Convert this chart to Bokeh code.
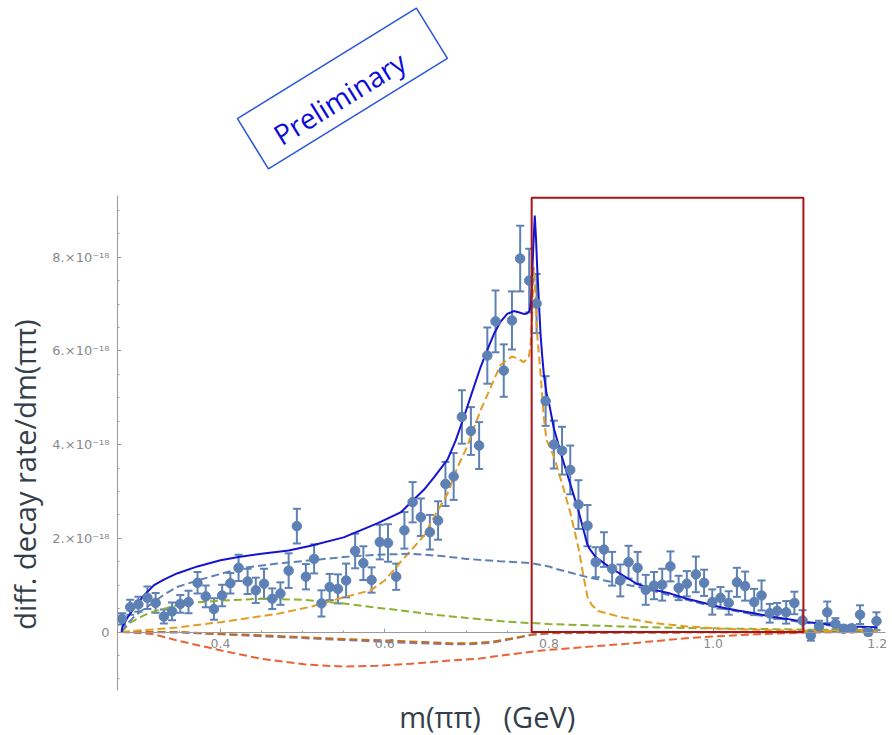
from bokeh.plotting import figure
from bokeh.models import Range1d, FixedTicker, Whisker, TeeHead, ColumnDataSource, Label
from bokeh.embed import file_html
from bokeh.resources import INLINE

# ---------------- data points (rate in units of 1e-18) ----------------
mass = [0.280, 0.290, 0.300, 0.311, 0.321, 0.331, 0.341, 0.351, 0.361, 0.372,
        0.382, 0.392, 0.402, 0.412, 0.422, 0.433, 0.443, 0.453, 0.463, 0.473,
        0.483, 0.493, 0.504, 0.514, 0.523, 0.533, 0.543, 0.553, 0.564, 0.574,
        0.584, 0.594, 0.604, 0.614, 0.624, 0.634, 0.644, 0.655, 0.665, 0.674,
        0.684, 0.694, 0.705, 0.715, 0.725, 0.735, 0.745, 0.755, 0.765, 0.776,
        0.785, 0.796, 0.806, 0.816, 0.826, 0.836, 0.847, 0.857, 0.867, 0.877,
        0.887, 0.897, 0.908, 0.918, 0.928, 0.938, 0.948, 0.958, 0.968, 0.979,
        0.989, 0.999, 1.009, 1.019, 1.029, 1.039, 1.050, 1.059, 1.069, 1.078,
        1.089, 1.099, 1.109, 1.119, 1.129, 1.139, 1.149, 1.159, 1.169, 1.179,
        1.189, 1.199]
rate = [0.28, 0.53, 0.59, 0.73, 0.62, 0.33, 0.44, 0.60, 0.64, 1.05,
        0.76, 0.49, 0.78, 1.04, 1.37, 1.08, 0.89, 1.03, 0.71, 0.82,
        1.31, 2.26, 1.18, 1.56, 0.61, 0.96, 0.92, 1.10, 1.73, 1.47,
        1.11, 1.92, 1.90, 1.18, 2.17, 2.77, 2.45, 2.13, 2.38, 3.16,
        3.32, 4.59, 4.29, 3.98, 5.90, 6.63, 5.58, 6.65, 7.97, 7.50,
        7.01, 4.93, 4.00, 3.87, 3.46, 2.72, 2.27, 1.49, 1.76, 1.35,
        1.10, 1.49, 1.37, 0.90, 0.99, 1.01, 1.40, 0.94, 1.03, 1.23,
        1.05, 0.64, 0.73, 0.62, 1.06, 0.98, 0.64, 0.78, 0.40, 0.45,
        0.42, 0.62, 0.245, -0.075, 0.12, 0.42, 0.175, 0.07, 0.08, 0.37,
        0.0, 0.23]
err = [0.12, 0.16, 0.16, 0.24, 0.21, 0.15, 0.19, 0.19, 0.24, 0.23,
       0.23, 0.23, 0.23, 0.22, 0.28, 0.27, 0.27, 0.32, 0.22, 0.24,
       0.37, 0.37, 0.27, 0.31, 0.28, 0.28, 0.31, 0.36, 0.37, 0.36,
       0.27, 0.37, 0.40, 0.28, 0.39, 0.43, 0.40, 0.37, 0.41, 0.47,
       0.50, 0.57, 0.51, 0.50, 0.60, 0.66, 0.56, 0.62, 0.70, 0.68,
       0.63, 0.53, 0.51, 0.51, 0.52, 0.52, 0.44, 0.32, 0.37, 0.36,
       0.34, 0.35, 0.34, 0.32, 0.29, 0.34, 0.32, 0.26, 0.27, 0.38,
       0.28, 0.27, 0.23, 0.25, 0.31, 0.31, 0.28, 0.32, 0.20, 0.17,
       0.24, 0.24, 0.22, 0.11, 0.12, 0.23, 0.12, 0.07, 0.07, 0.20,
       0.07, 0.19]

# ---------------- model curves ----------------
total_m = [0.2795, 0.2803, 0.2864, 0.2965, 0.3067, 0.319, 0.331, 0.347, 0.372, 0.40,
           0.422, 0.45, 0.483, 0.51, 0.55, 0.591, 0.62, 0.634, 0.648, 0.66,
           0.6765, 0.6865, 0.6965, 0.7065, 0.7167, 0.725, 0.733, 0.741, 0.7492, 0.7573,
           0.764, 0.7694, 0.7735, 0.7767, 0.7782, 0.7796, 0.7812, 0.7828, 0.7843, 0.7857,
           0.7878, 0.7898, 0.7918, 0.7938, 0.797, 0.80, 0.806, 0.816, 0.826, 0.836,
           0.8467, 0.849, 0.857, 0.867, 0.877, 0.887, 0.907, 0.928, 0.948, 0.968,
           0.989, 1.009, 1.03, 1.05, 1.07, 1.09, 1.11, 1.13, 1.15, 1.17, 1.20]
total_r = [0.0, 0.10, 0.30, 0.55, 0.78, 1.00, 1.12, 1.25, 1.40, 1.53,
           1.60, 1.67, 1.74, 1.84, 2.02, 2.32, 2.56, 2.80, 3.04, 3.30,
           3.68, 4.09, 4.59, 5.12, 5.65, 6.02, 6.36, 6.62, 6.79, 6.85,
           6.82, 6.79, 6.80, 6.86, 7.05, 7.60, 8.30, 8.89, 8.40, 7.79,
           7.05, 6.36, 5.90, 5.51, 5.10, 4.90, 4.35, 3.73, 3.16, 2.59,
           1.88, 1.79, 1.60, 1.47, 1.35, 1.24, 1.03, 0.90, 0.82, 0.71,
           0.62, 0.53, 0.46, 0.40, 0.33, 0.28, 0.22, 0.18, 0.14, 0.12, 0.10]

broad_m = [0.2795, 0.285, 0.295, 0.305, 0.319, 0.333, 0.347, 0.372, 0.40, 0.428,
           0.469, 0.51, 0.55, 0.59, 0.632, 0.67, 0.70, 0.74, 0.779, 0.80,
           0.806, 0.847, 0.887, 0.907, 0.95, 1.0, 1.05, 1.10, 1.15, 1.20]
broad_r = [0.0, 0.15, 0.33, 0.47, 0.64, 0.82, 0.96, 1.10, 1.24, 1.37,
           1.46, 1.53, 1.60, 1.65, 1.67, 1.62, 1.56, 1.51, 1.47, 1.40,
           1.36, 1.17, 1.03, 0.97, 0.77, 0.54, 0.37, 0.23, 0.12, 0.07]

rho_m = [0.2795, 0.30, 0.35, 0.40, 0.47, 0.51, 0.55, 0.583, 0.60, 0.614,
         0.619, 0.632, 0.648, 0.66, 0.6765, 0.6887, 0.70, 0.7167, 0.729, 0.741,
         0.755, 0.762, 0.769, 0.7755, 0.778, 0.7796, 0.7816, 0.7836, 0.7857, 0.7898,
         0.7938, 0.797, 0.806, 0.818, 0.826, 0.836, 0.842, 0.847, 0.852, 0.86,
         0.887, 0.928, 0.968, 1.009, 1.09, 1.20]
rho_r = [0.0, 0.03, 0.10, 0.21, 0.39, 0.54, 0.74, 0.89, 1.10, 1.38,
         1.49, 1.74, 2.06, 2.45, 2.95, 3.52, 3.94, 4.73, 5.22, 5.70,
         5.88, 5.84, 5.76, 5.85, 6.20, 6.72, 7.79, 7.20, 6.36, 5.52,
         4.59, 4.10, 3.75, 3.05, 2.55, 1.80, 1.20, 0.75, 0.58, 0.45,
         0.32, 0.19, 0.12, 0.07, 0.03, 0.01]

sigma_m = [0.2795, 0.29, 0.306, 0.319, 0.347, 0.37, 0.40, 0.45, 0.50, 0.55,
           0.59, 0.62, 0.66, 0.70, 0.75, 0.80, 0.887, 0.95, 1.03, 1.12, 1.20]
sigma_r = [0.0, 0.20, 0.35, 0.44, 0.57, 0.63, 0.67, 0.71, 0.69, 0.61,
           0.52, 0.46, 0.37, 0.30, 0.22, 0.17, 0.12, 0.09, 0.07, 0.05, 0.04]

interf_m = [0.2795, 0.30, 0.319, 0.347, 0.40, 0.449, 0.502, 0.55, 0.59, 0.632,
            0.672, 0.713, 0.753, 0.794, 0.895, 0.976, 1.05, 1.12, 1.20]
interf_r = [0.0, -0.02, -0.05, -0.18, -0.39, -0.57, -0.69, -0.74, -0.72, -0.68,
            -0.62, -0.57, -0.48, -0.39, -0.25, -0.12, -0.05, -0.01, 0.0]

small1_m = [0.2795, 0.35, 0.40, 0.45, 0.50, 0.55, 0.60, 0.64, 0.68, 0.705,
            0.73, 0.76, 0.78, 0.80, 0.90, 1.20]
small1_r = [0.0, -0.01, -0.05, -0.09, -0.13, -0.17, -0.21, -0.24, -0.26, -0.26,
            -0.23, -0.13, -0.06, -0.03, -0.01, 0.0]
small2_m = [0.2795, 0.35, 0.40, 0.45, 0.50, 0.55, 0.60, 0.64, 0.68, 0.705,
            0.73, 0.76, 0.78, 0.80, 0.90, 1.20]
small2_r = [0.0, 0.0, -0.04, -0.07, -0.11, -0.15, -0.18, -0.21, -0.24, -0.24,
            -0.21, -0.12, -0.05, -0.02, -0.01, 0.0]

# highlighted region
box_left = [0.779]
box_right = [1.110]
box_bottom = [0.0]
box_top = [9.27]

# ticks
x_ticks = [0.4, 0.6, 0.8, 1.0, 1.2]
x_tick_labels = ["0.4", "0.6", "0.8", "1.0", "1.2"]
x_minor = [0.30, 0.35, 0.45, 0.50, 0.55, 0.65, 0.70, 0.75, 0.85, 0.90, 0.95,
           1.05, 1.10, 1.15]
y_ticks = [0, 2, 4, 6, 8]
y_tick_labels = ["0", "2.×10⁻¹⁸", "4.×10⁻¹⁸", "6.×10⁻¹⁸", "8.×10⁻¹⁸"]
y_minor = [-1.0, -0.5, 0.5, 1.0, 1.5, 2.5, 3.0, 3.5, 4.5, 5.0, 5.5, 6.5, 7.0,
           7.5, 8.5, 9.0]

X0 = 0.2745   # where the vertical axis crosses

# ---------------- figure (frame covers the whole page) ----------------
p = figure(width=892, height=735, output_backend="svg", toolbar_location=None,
           x_range=Range1d(0.13203, 1.21851), y_range=Range1d(-2.209, 13.479),
           min_border_left=0, min_border_right=0, min_border_top=0,
           min_border_bottom=0)
p.outline_line_color = None
p.grid.visible = False
p.background_fill_color = "white"
p.border_fill_color = "white"

AXC = "#9a9a9a"
LBC = "#8a8a8a"

xa = p.xaxis[0]
xa.fixed_location = 0
xa.bounds = (X0, 1.21)
xa.ticker = FixedTicker(ticks=x_ticks, minor_ticks=x_minor)
xa.major_label_overrides = {t: s for t, s in zip(x_ticks, x_tick_labels)}
ya = p.yaxis[0]
ya.fixed_location = X0
ya.bounds = (-1.249, 9.32)
ya.ticker = FixedTicker(ticks=y_ticks, minor_ticks=y_minor)
ya.major_label_overrides = {t: s for t, s in zip(y_ticks, y_tick_labels)}
for ax in (xa, ya):
    ax.axis_line_color = AXC
    ax.major_tick_line_color = AXC
    ax.minor_tick_line_color = AXC
    ax.major_tick_in = 4
    ax.major_tick_out = 0
    ax.minor_tick_in = 2
    ax.minor_tick_out = 0
    ax.major_label_text_color = LBC
    ax.major_label_text_font = "DejaVu Sans"
xa.major_label_text_font_size = "12.5px"
ya.major_label_text_font_size = "13px"
xa.major_label_standoff = 7
ya.major_label_standoff = 8

DASH = "8 4"
p.line(interf_m, interf_r, line_color="#eb6235", line_width=2, line_dash=DASH)
p.line(small1_m, small1_r, line_color="#8778b3", line_width=2, line_dash=DASH)
p.line(small2_m, small2_r, line_color="#c56e1a", line_width=2, line_dash=DASH)
p.line(sigma_m, sigma_r, line_color="#8fb032", line_width=2, line_dash=DASH)
p.line(rho_m, rho_r, line_color="#e19c24", line_width=2, line_dash=DASH)
p.line(broad_m, broad_r, line_color="#5e81b5", line_width=2, line_dash=DASH)
p.line(total_m, total_r, line_color="#1414d2", line_width=2)

PT = "#5e81b5"
src = ColumnDataSource(dict(
    m=mass, r=rate,
    lo=[r - e for r, e in zip(rate, err)],
    hi=[r + e for r, e in zip(rate, err)]))
p.add_layout(Whisker(source=src, base="m", lower="lo", upper="hi",
                     line_color=PT, line_width=2,
                     upper_head=TeeHead(size=8, line_color=PT, line_width=2),
                     lower_head=TeeHead(size=8, line_color=PT, line_width=2)))
p.scatter("m", "r", source=src, size=9.5, fill_color=PT, line_color=PT)

bx = p.quad(left=box_left, right=box_right, bottom=box_bottom, top=box_top,
            fill_color=None, line_color="#a8141a", line_width=2)
bx.level = "overlay"

# annotations
p.add_layout(Label(x=0.5485, y=11.6, text="Preliminary", angle=31.7,
                   angle_units="deg", anchor="center",
                   text_font="Open Sans", text_font_size="28px",
                   text_color="#0b0bdc",
                   border_line_color="#2a56d8", border_line_width=1.5,
                   padding=dict(left=23, right=38, top=17, bottom=4)))
p.add_layout(Label(x=0.1613, y=3.36, text="diff. decay rate/dm(ππ)", angle=90,
                   angle_units="deg", text_align="center",
                   text_baseline="alphabetic", text_font="Open Sans",
                   text_font_size="29px", text_color="#333f4a"))
p.add_layout(Label(x=0.7249, y=-1.80, text="m(ππ) \u00a0 (GeV)",
                   text_align="center", text_baseline="alphabetic",
                   text_font="Open Sans", text_font_size="29px",
                   text_color="#333f4a"))

open("out.html", "w").write(file_html(p, INLINE))
